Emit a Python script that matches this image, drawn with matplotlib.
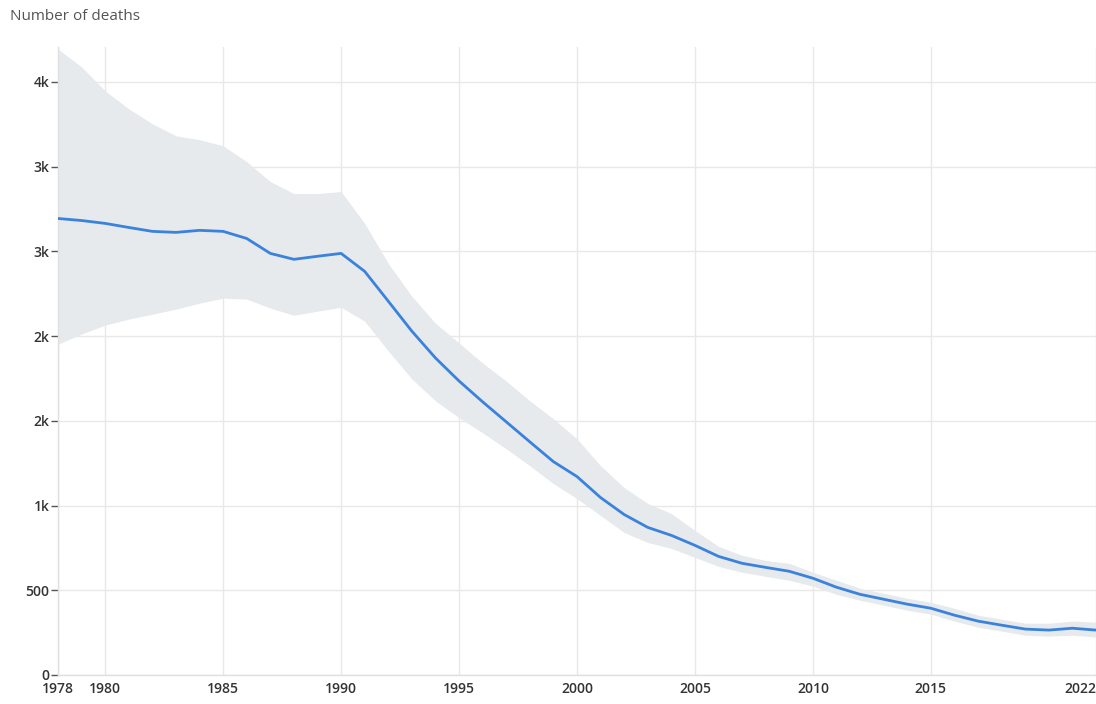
import matplotlib
matplotlib.use("Agg")
from matplotlib import pyplot as plt

years = list(range(1978, 2023))
deaths = [2694, 2682, 2665, 2641, 2618, 2612, 2624, 2618, 2576, 2488,
          2453, 2471, 2488, 2382, 2206, 2029, 1871, 1735, 1612, 1494,
          1376, 1259, 1171, 1047, 947, 871, 824, 765, 700, 659,
          635, 612, 571, 518, 476, 447, 418, 394, 353, 318,
          294, 271, 265, 276, 265]
upper = [3694, 3588, 3447, 3341, 3253, 3182, 3159, 3123, 3029, 2912,
         2841, 2841, 2853, 2665, 2429, 2235, 2076, 1959, 1841, 1735,
         1618, 1512, 1394, 1235, 1106, 1012, 953, 853, 759, 706,
         676, 659, 606, 559, 512, 482, 453, 429, 394, 353,
         329, 306, 306, 318, 312]
lower = [1953, 2012, 2065, 2100, 2129, 2159, 2194, 2224, 2218, 2165,
         2123, 2147, 2170, 2088, 1912, 1747, 1618, 1518, 1429, 1335,
         1235, 1129, 1041, 941, 841, 782, 747, 694, 641, 606,
         582, 559, 524, 476, 441, 412, 382, 359, 318, 282,
         259, 235, 229, 235, 224]

xticks = [1978, 1980, 1985, 1990, 1995, 2000, 2005, 2010, 2015, 2022]
yticks = [0, 500, 1000, 1500, 2000, 2500, 3000, 3500]
ylabels = ['0', '500', '1k', '2k', '2k', '3k', '3k', '4k']

plt.rcParams['font.family'] = ['Open Sans', 'DejaVu Sans']

fig = plt.figure(figsize=(10.96, 7.04), dpi=100)
ax = fig.add_axes([58 / 1096, 29 / 704, 1038 / 1096, 628 / 704])

ax.fill_between(years, lower, upper, color='#e6eaed', linewidth=0, zorder=2)
ax.plot(years, deaths, color='#3b82dc', linewidth=2.0, zorder=3)

ax.set_xlim(1978, 2022)
ax.set_ylim(0, 3706)
ax.set_xticks(xticks)
ax.set_xticklabels([str(x) for x in xticks])
ax.set_yticks(yticks)
ax.set_yticklabels(ylabels)

ax.grid(True, color='#e8e8e8', linewidth=1, zorder=0)
ax.set_axisbelow(True)
for s in ['top', 'right']:
    ax.spines[s].set_visible(False)
for s in ['left', 'bottom']:
    ax.spines[s].set_color('#e0e0e0')
    ax.spines[s].set_linewidth(1)

ax.tick_params(axis='y', length=5, width=1, color='#555555', pad=1,
               labelsize=10, labelcolor='#333333')
ax.tick_params(axis='x', length=0, pad=5, labelsize=10, labelcolor='#333333')
for lab in ax.get_yticklabels() + ax.get_xticklabels():
    lab.set_fontweight('semibold')
ax.get_xticklabels()[-1].set_horizontalalignment('right')

fig.text(10 / 1096, 1 - 17 / 704, 'Number of deaths', fontsize=11,
         color='#555555', va='center', ha='left')

fig.savefig('out.png', dpi=100)
